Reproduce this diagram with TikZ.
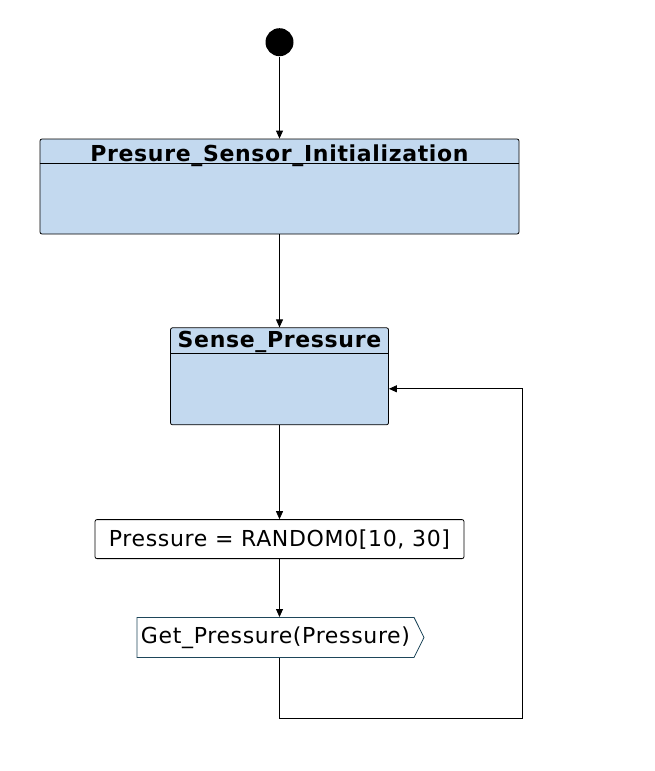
\documentclass[tikz,border=0pt]{standalone}
\usepackage{fontspec}
\setmainfont[LetterSpace=3]{DejaVu Sans}
\usetikzlibrary{arrows.meta, positioning, shapes.symbols}

\definecolor{statefill}{RGB}{195,217,239}
\definecolor{signaledge}{RGB}{30,70,90}

\tikzset{
  statebox/.style={draw, fill=statefill, rounded corners=2pt, inner sep=0pt},
  statename/.style={font=\fontsize{22}{26}\selectfont\bfseries, anchor=base, inner sep=0pt},
  taskbox/.style={draw, rounded corners=2pt, inner sep=0pt, font=\fontsize{22}{26}\selectfont},
  signalbox/.style={signal, signal to=east, signal pointer angle=127, draw=signaledge, inner sep=0pt, font=\fontsize{22}{26}\selectfont}
}

\begin{document}
\begin{tikzpicture}[x=1pt, y=-1pt, >={Triangle[length=8pt,width=7pt]}, line width=0.8pt]
  \useasboundingbox (0,0) rectangle (654,771);
  \node (init) [statebox, minimum width=479pt, minimum height=95pt] at (279.5,186.5) {};
  \node (start) [above=82pt of init, circle, fill=black, minimum size=28pt, inner sep=0pt] {};
  \node (sense) [below=93pt of init, statebox, minimum width=218pt, minimum height=97pt] {};
  \node (task) [below=94pt of sense, taskbox, minimum width=369pt, minimum height=39pt] {Pressure = RANDOM0[10, 30]};
  \node (output) [below=58pt of task, xshift=-4pt, signalbox, minimum width=287pt, minimum height=40pt] {Get\_Pressure(Pressure)};
  \node (inittitle) [statename] at ([yshift=-22.5pt]init.north) {Presure\_Sensor\_Initialization};
  \node (sensetitle) [statename] at ([yshift=-20pt]sense.north) {Sense\_Pressure};
  \draw ([yshift=-25pt]init.north west) -- ([yshift=-25pt]init.north east);
  \draw ([yshift=-25.5pt]sense.north west) -- ([yshift=-25.5pt]sense.north east);
  \coordinate (loopcorner) at (522,718);
  \draw[->] (start) -- (init);
  \draw[->] (init) -- (sense);
  \draw[->] (sense) -- (task);
  \draw[->] (task.south) -- (task.south |- output.north);
  \draw[->] (task.south |- output.south) |- (loopcorner) |- ([yshift=-12.5pt]sense.east);
\end{tikzpicture}
\end{document}
